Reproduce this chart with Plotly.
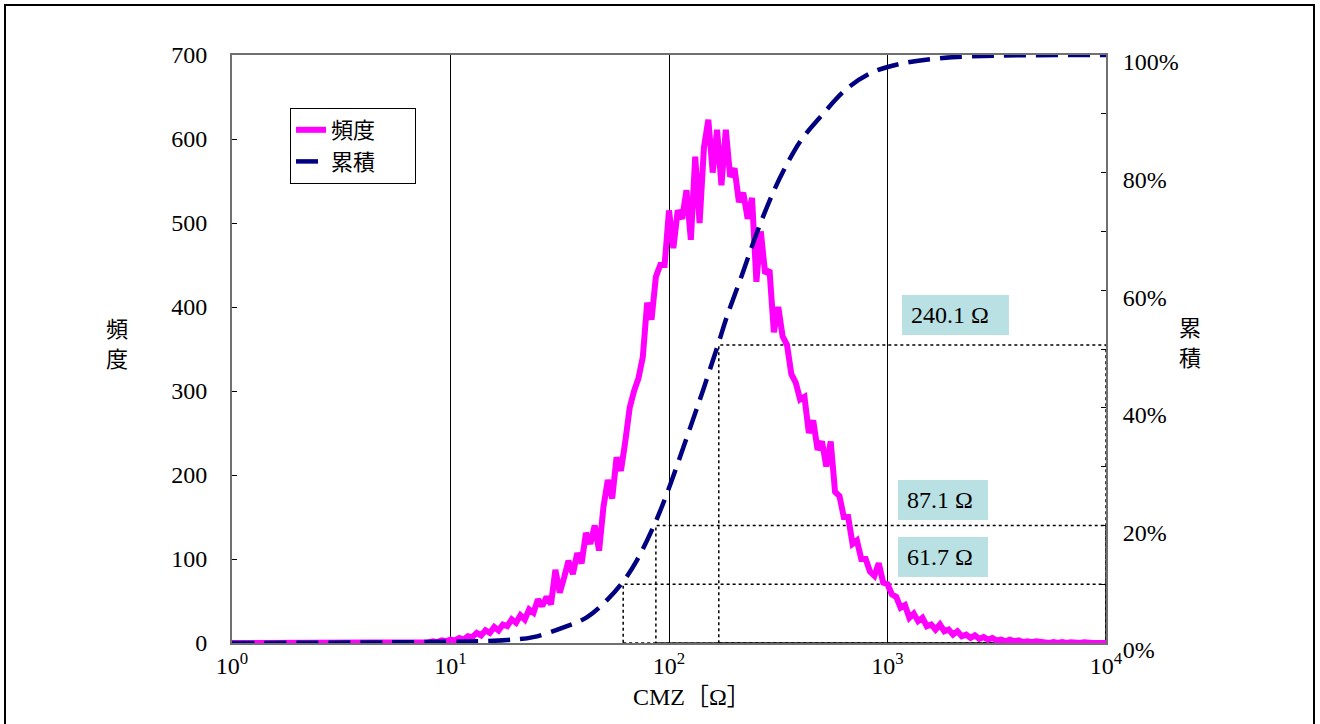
import numpy as np
import plotly.graph_objects as go

# ---------------- data ----------------
# frequency histogram: log-spaced CMZ bins (log10 start / width), counts
freq_bin_log10_start = 0.0
freq_bin_log10_width = 0.02
freq_counts = [
    # 10^0.00 .. 10^0.88
    0, 0, 0, 0, 0, 0, 0, 0, 0, 0, 0, 0, 0, 0, 0, 0, 0, 0, 0, 0,
    0, 0, 0, 0, 0, 0, 0, 0, 0, 0, 0, 0, 0, 0, 0, 0, 0, 0, 0, 0,
    1, 0, 0, 1, 0,
    # 10^0.90 .. 10^1.98
    1, 2, 1, 3, 2, 4, 3, 6, 4, 8, 7, 12, 9, 15, 12, 19, 15, 22, 20, 28,
    24, 33, 28, 40, 36, 52, 44, 55, 46, 87, 60, 78, 98, 82, 107, 95, 131, 118, 140, 110,
    162, 194, 172, 221, 205, 240, 280, 300, 315, 340, 405, 385, 436, 450, 450,
    # 10^2.00 .. 10^2.98
    515, 470, 515, 505, 539, 480, 579, 500, 590, 623, 560, 611, 545, 611, 555, 565, 525, 536, 505, 530,
    430, 490, 440, 444, 370, 400, 365, 355, 320, 310, 290, 293, 250, 265, 230, 240, 210, 240, 180, 175,
    150, 150, 118, 122, 100, 100, 85, 80, 95, 72,
    # 10^3.00 .. 10^4.00
    70, 58, 55, 42, 45, 30, 35, 26, 30, 20,
    22, 16, 22, 14, 16, 10, 14, 8, 10, 6,
    9, 5, 7, 4, 6, 3, 4, 2, 4, 2,
    3, 1, 2, 1, 2, 1, 1, 0, 1, 0,
    1, 0, 1, 0, 0, 1, 0, 0, 0, 0, 0,
]

# cumulative curve (CMZ in ohm, cumulative %)
cum_cmz = [1, 9.4, 18.2, 23.9, 32.7, 42.2, 52.0, 61.0, 71.4, 86.3, 98, 124.7, 143.2,
           167.5, 184, 215.8, 255, 302.7, 350.8, 401.8, 507, 653, 859, 1178, 1795, 3273, 10000]
cum_pct = [0, 0.2, 0.5, 1.0, 2.6, 4.4, 7.3, 10.2, 14.1, 20.4, 25.5, 36.5, 43.0,
           50.7, 55.5, 62.6, 70.2, 77.0, 81.8, 85.5, 90.0, 94.3, 97.1, 98.6, 99.5, 99.9, 100]

# quantile markers
quantile_pct = [10, 20, 50.7]
quantile_cmz = [61.7, 87.1, 169]
quantile_labels = ["61.7 Ω", "87.1 Ω", "240.1 Ω"]

x_tickvals = [1, 10, 100, 1000, 10000]
x_ticktext = ["10<sup>0</sup>", "10<sup>1</sup>", "10<sup>2</sup>", "10<sup>3</sup>", "10<sup>4</sup>"]
y_tickvals = [0, 100, 200, 300, 400, 500, 600, 700]
y2_tickvals = [0, 20, 40, 60, 80, 100]
y2_ticktext = ["0%", "20%", "40%", "60%", "80%", "100%"]

# ---------------- figure ----------------
W, H = 1320, 724
L_, R_, T_, B_ = 232, 1106, 55, 643
PW, PH = R_ - L_, B_ - T_

def px(x):
    return (x - L_) / PW

def py(y):
    return (B_ - y) / PH

FONT = "Liberation Serif, 'Noto Sans CJK JP', serif"
CJK = "'Noto Sans CJK JP', 'Liberation Serif', sans-serif"
FS = 24

freq_x = [10 ** (freq_bin_log10_start + i * freq_bin_log10_width) for i in range(len(freq_counts))]

fig = go.Figure()
fig.add_trace(go.Scatter(
    x=freq_x, y=freq_counts, mode="lines", name="頻度\u00a0\u00a0\u00a0\u00a0\u00a0\u00a0\u00a0",
    line=dict(color="#FF00FF", width=6), yaxis="y",
))
fig.add_trace(go.Scatter(
    x=cum_cmz, y=cum_pct, mode="lines", name="累積\u00a0\u00a0\u00a0\u00a0\u00a0\u00a0\u00a0", line_shape="spline",
    line=dict(color="#000080", width=4.5, dash="22px,10px"), yaxis="y2",
))

shapes = []
for q, p in zip(quantile_cmz, quantile_pct):
    shapes.append(dict(type="rect", xref="x", yref="y2", x0=q, x1=10000, y0=0, y1=p,
                       line=dict(color="black", width=1.5, dash="dot"), layer="below"))
# outer frame
shapes.append(dict(type="rect", xref="paper", yref="paper",
                   x0=px(5), x1=px(1314), y0=py(5), y1=py(740),
                   line=dict(color="black", width=2), fillcolor="rgba(0,0,0,0)"))

annotations = []
box_specs = [(557, 898, 90), (500, 898, 90), (315, 902, 107)]
for lbl, (cy, x0, w) in zip(quantile_labels, box_specs):
    shapes.append(dict(type="rect", xref="paper", yref="paper",
                       x0=px(x0), x1=px(x0 + w), y0=py(cy - 20), y1=py(cy + 20),
                       line=dict(width=0), fillcolor="#B9E0E3", layer="above"))
    annotations.append(dict(
        x=px(x0 + 7), y=py(cy), xref="paper", yref="paper",
        xanchor="left", yanchor="middle", text=lbl, showarrow=False,
        font=dict(family=FONT, size=FS, color="black"),
    ))

annotations.append(dict(x=px(692), y=py(697), xref="paper", yref="paper",
                        text="CMZ［Ω］", showarrow=False, xanchor="center", yanchor="middle",
                        font=dict(family=FONT, size=FS, color="black")))
for ch, cx, cy in [("頻", 117, 327), ("度", 117, 357), ("累", 1190, 326), ("積", 1190, 356)]:
    annotations.append(dict(x=px(cx), y=py(cy), xref="paper", yref="paper",
                            text=ch, showarrow=False, xanchor="center", yanchor="middle",
                            font=dict(family=CJK, size=22, color="black")))

fig.update_layout(
    width=W, height=H, autosize=False,
    margin=dict(l=L_, r=W - R_, t=T_, b=H - B_, pad=0),
    paper_bgcolor="white", plot_bgcolor="white",
    font=dict(family=FONT, size=FS, color="black"),
    showlegend=True,
    legend=dict(x=px(290), y=py(108), xanchor="left", yanchor="top",
                bordercolor="black", borderwidth=1, bgcolor="white",
                font=dict(family=CJK, size=22, color="black"),
                itemwidth=30, tracegroupgap=0),
    xaxis=dict(type="log", range=[0, 4], tickvals=x_tickvals, ticktext=x_ticktext,
               showgrid=True, gridcolor="black", gridwidth=1.2, zeroline=False,
               showline=True, linecolor="#707070", linewidth=2, mirror=True,
               ticks="", tickfont=dict(family=FONT, size=FS)),
    yaxis=dict(range=[0, 700], tickvals=y_tickvals, showgrid=False, zeroline=False,
               showline=True, linecolor="#707070", linewidth=2,
               ticks="inside", ticklen=5, tickcolor="black",
               ticklabelstandoff=18, tickfont=dict(family=FONT, size=FS)),
    yaxis2=dict(range=[0, 100], overlaying="y", side="right", tickvals=y2_tickvals,
                ticktext=y2_ticktext, showgrid=False, zeroline=False,
                showline=True, linecolor="#707070", linewidth=2,
                ticks="inside", ticklen=5, tickcolor="black",
                minor=dict(dtick=10, ticks="inside", ticklen=5, tickcolor="black"),
                ticklabelstandoff=10, ticklabelshift=7,
                tickfont=dict(family=FONT, size=FS)),
    shapes=shapes,
    annotations=annotations,
)

fig.write_html("out.html")
